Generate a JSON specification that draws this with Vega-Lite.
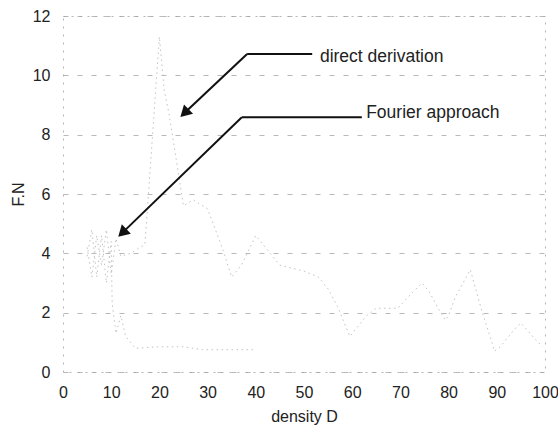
{
  "$schema": "https://vega.github.io/schema/vega-lite/v6.json",
  "width": 482,
  "height": 356,
  "autosize": {"type": "none"},
  "padding": {"left": 63, "top": 16, "right": 13, "bottom": 57},
  "background": "white",
  "config": {
    "font": "Liberation Sans",
    "view": {"stroke": "#b5b5b5", "strokeDash": [2, 6], "strokeWidth": 1},
    "axis": {
      "labelFont": "Liberation Sans",
      "titleFont": "Liberation Sans",
      "labelFontSize": 16,
      "titleFontSize": 16,
      "labelColor": "#222",
      "titleColor": "#222",
      "titleFontWeight": "normal",
      "labelFlush": false,
      "domain": false,
      "ticks": false,
      "tickSize": 0,
      "gridColor": "#a0a0a0",
      "gridDash": [5, 9],
      "gridWidth": 1,
      "gridOpacity": 0.75
    }
  },
  "datasets": {
    "curves": [
      {"series": "direct derivation", "D": 5, "FN": 4.2},
      {"series": "direct derivation", "D": 6, "FN": 3.2},
      {"series": "direct derivation", "D": 7, "FN": 4.6},
      {"series": "direct derivation", "D": 8, "FN": 3.6},
      {"series": "direct derivation", "D": 9, "FN": 4.8},
      {"series": "direct derivation", "D": 10, "FN": 3.3},
      {"series": "direct derivation", "D": 11, "FN": 4.5},
      {"series": "direct derivation", "D": 12, "FN": 3.9},
      {"series": "direct derivation", "D": 14, "FN": 4.0},
      {"series": "direct derivation", "D": 17, "FN": 4.3},
      {"series": "direct derivation", "D": 20, "FN": 11.3},
      {"series": "direct derivation", "D": 21, "FN": 9.5},
      {"series": "direct derivation", "D": 22, "FN": 8.7},
      {"series": "direct derivation", "D": 25, "FN": 5.6},
      {"series": "direct derivation", "D": 27, "FN": 5.8},
      {"series": "direct derivation", "D": 30, "FN": 5.5},
      {"series": "direct derivation", "D": 33, "FN": 4.2},
      {"series": "direct derivation", "D": 35, "FN": 3.2},
      {"series": "direct derivation", "D": 37, "FN": 3.6},
      {"series": "direct derivation", "D": 40, "FN": 4.6},
      {"series": "direct derivation", "D": 43, "FN": 4.0},
      {"series": "direct derivation", "D": 45, "FN": 3.6},
      {"series": "direct derivation", "D": 50, "FN": 3.4},
      {"series": "direct derivation", "D": 53, "FN": 3.2},
      {"series": "direct derivation", "D": 55, "FN": 2.8},
      {"series": "direct derivation", "D": 57, "FN": 2.2},
      {"series": "direct derivation", "D": 59.5, "FN": 1.2},
      {"series": "direct derivation", "D": 61, "FN": 1.5},
      {"series": "direct derivation", "D": 63, "FN": 1.9},
      {"series": "direct derivation", "D": 65, "FN": 2.15},
      {"series": "direct derivation", "D": 69.5, "FN": 2.15},
      {"series": "direct derivation", "D": 72, "FN": 2.6},
      {"series": "direct derivation", "D": 74.5, "FN": 3.0},
      {"series": "direct derivation", "D": 76, "FN": 2.7},
      {"series": "direct derivation", "D": 78, "FN": 2.1},
      {"series": "direct derivation", "D": 79.3, "FN": 1.75},
      {"series": "direct derivation", "D": 80, "FN": 1.9},
      {"series": "direct derivation", "D": 81.3, "FN": 2.5},
      {"series": "direct derivation", "D": 83, "FN": 3.0},
      {"series": "direct derivation", "D": 84.5, "FN": 3.45},
      {"series": "direct derivation", "D": 87, "FN": 2.0},
      {"series": "direct derivation", "D": 89, "FN": 1.0},
      {"series": "direct derivation", "D": 89.5, "FN": 0.7},
      {"series": "direct derivation", "D": 90.7, "FN": 0.85},
      {"series": "direct derivation", "D": 94, "FN": 1.5},
      {"series": "direct derivation", "D": 95, "FN": 1.65},
      {"series": "direct derivation", "D": 98, "FN": 1.1},
      {"series": "direct derivation", "D": 99.5, "FN": 0.85},
      {"series": "Fourier approach", "D": 5, "FN": 3.9},
      {"series": "Fourier approach", "D": 6, "FN": 4.8},
      {"series": "Fourier approach", "D": 7, "FN": 3.2},
      {"series": "Fourier approach", "D": 8, "FN": 4.6},
      {"series": "Fourier approach", "D": 9, "FN": 3.0},
      {"series": "Fourier approach", "D": 10, "FN": 4.4},
      {"series": "Fourier approach", "D": 10.2, "FN": 2.3},
      {"series": "Fourier approach", "D": 11, "FN": 1.3},
      {"series": "Fourier approach", "D": 12, "FN": 1.9},
      {"series": "Fourier approach", "D": 13, "FN": 1.2},
      {"series": "Fourier approach", "D": 15, "FN": 0.8},
      {"series": "Fourier approach", "D": 20, "FN": 0.85},
      {"series": "Fourier approach", "D": 25, "FN": 0.85},
      {"series": "Fourier approach", "D": 29, "FN": 0.75},
      {"series": "Fourier approach", "D": 40, "FN": 0.75}
    ],
    "arrows": [
      {"label": "direct derivation", "x1": 51.7, "y1": 10.72, "x2": 38.2, "y2": 10.72},
      {"label": "direct derivation", "x1": 38.2, "y1": 10.72, "x2": 25.2, "y2": 8.73},
      {"label": "Fourier approach", "x1": 62.0, "y1": 8.59, "x2": 37.1, "y2": 8.59},
      {"label": "Fourier approach", "x1": 37.1, "y1": 8.59, "x2": 12.3, "y2": 4.69}
    ],
    "heads": [
      {"label": "direct derivation", "x": 25.2, "y": 8.73},
      {"label": "Fourier approach", "x": 12.3, "y": 4.69}
    ],
    "labels": [
      {"label": "direct derivation", "x": 53.3, "y": 10.62},
      {"label": "Fourier approach", "x": 62.9, "y": 8.72}
    ]
  },
  "layer": [
    {
      "data": {"name": "curves"},
      "mark": {"type": "line", "stroke": "#c2c2c2", "strokeWidth": 1, "strokeDash": [1.5, 3.5]},
      "encoding": {
        "x": {
          "field": "D", "type": "quantitative",
          "scale": {"domain": [0, 100], "nice": false},
          "axis": {"values": [0, 10, 20, 30, 40, 50, 60, 70, 80, 90, 100], "title": "density D", "labelPadding": 12, "titlePadding": 8, "grid": false}
        },
        "y": {
          "field": "FN", "type": "quantitative",
          "scale": {"domain": [0, 12], "nice": false},
          "axis": {"values": [0, 2, 4, 6, 8, 10, 12], "title": "F.N", "labelPadding": 13, "titlePadding": 6}
        },
        "detail": {"field": "series"}
      }
    },
    {
      "data": {"name": "arrows"},
      "mark": {"type": "rule", "color": "#111", "strokeWidth": 2},
      "encoding": {
        "x": {"field": "x1", "type": "quantitative"},
        "y": {"field": "y1", "type": "quantitative"},
        "x2": {"field": "x2"},
        "y2": {"field": "y2"}
      }
    },
    {
      "data": {"name": "heads"},
      "mark": {"type": "point", "shape": "triangle-up", "filled": true, "color": "#111", "size": 170, "angle": 226, "opacity": 1},
      "encoding": {
        "x": {"field": "x", "type": "quantitative"},
        "y": {"field": "y", "type": "quantitative"}
      }
    },
    {
      "data": {"name": "labels"},
      "mark": {"type": "text", "align": "left", "baseline": "middle", "fontSize": 17.5, "font": "Liberation Sans", "color": "#222"},
      "encoding": {
        "x": {"field": "x", "type": "quantitative"},
        "y": {"field": "y", "type": "quantitative"},
        "text": {"field": "label"}
      }
    }
  ]
}
